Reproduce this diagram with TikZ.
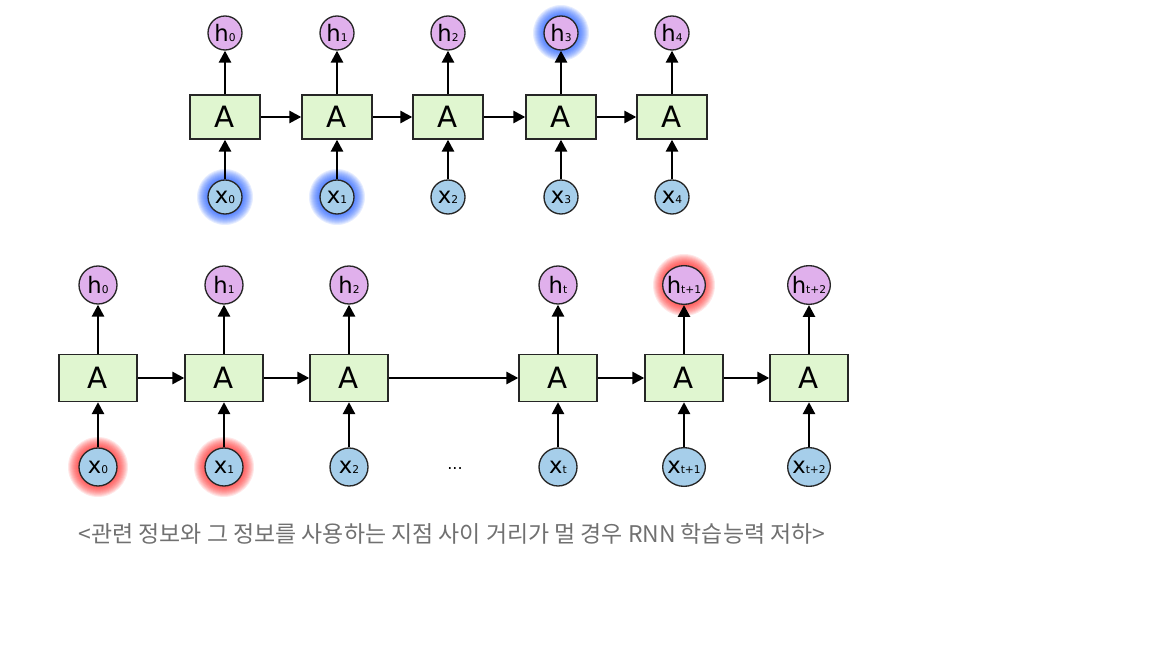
\documentclass[tikz,border=0pt]{standalone}
\usepackage{fontspec}
\setmainfont{DejaVu Sans}
\newfontfamily\krfont{Noto Sans CJK KR}
\usetikzlibrary{arrows.meta,shapes.geometric,backgrounds}

\definecolor{cellgreen}{RGB}{224,246,208}
\definecolor{hpurple}{RGB}{224,176,236}
\definecolor{xblue}{RGB}{166,206,234}
\definecolor{glowblue}{RGB}{30,90,255}
\definecolor{glowred}{RGB}{255,40,40}
\definecolor{capgray}{RGB}{112,112,112}

\newcommand{\sub}[1]{{\fontsize{8}{8}\selectfont #1}}
\newcommand{\lbl}[2]{\makebox[0pt]{#1\sub{#2}}}

\tikzset{every picture/.style={line width=0.75pt}}
\tikzset{
  cell/.style={draw=black!85, line width=1pt, fill=cellgreen, inner sep=0pt, font=\fontsize{22}{22}\selectfont},
  smallcell/.style={cell, minimum width=52.5pt, minimum height=33pt},
  bigcell/.style={cell, minimum width=58.5pt, minimum height=35.25pt},
  state/.style={ellipse, draw=black!85, line width=1pt, inner sep=0pt, font=\fontsize{17}{17}\selectfont},
  hstate/.style={state, fill=hpurple},
  xstate/.style={state, fill=xblue},
  small/.style={minimum width=25.5pt, minimum height=25.5pt},
  big/.style={minimum width=28.5pt, minimum height=28.5pt},
  wide/.style={minimum width=32pt, minimum height=29pt},
  link/.style={line width=2pt, -{Triangle[length=9pt,width=9pt]}},
  caption/.style={text=capgray, font=\krfont\fontsize{17.2}{17.2}\selectfont},
}
% soft halo behind a node
\newcommand{\halo}[3]{%
  \foreach \r in {0,1,...,11} \fill[#3, opacity=0.11] (#1) circle ({#2+\r});}

\begin{document}
\begin{tikzpicture}[x=0.75pt,y=0.75pt,yscale=-1,xscale=1]
  \useasboundingbox (0,0) rectangle (1152,648);

  % top chain
  \foreach \i/\xx in {0/225,1/337,2/448,3/561,4/672} {
    \node[smallcell] (ta\i) at (\xx,117) {A};
    \node[hstate,small] (th\i) at (\xx,33) {\lbl{h}{\i}};
    \node[xstate,small] (tx\i) at (\xx,197) {\lbl{x}{\i}};
    \draw[link] (tx\i) -- (ta\i);
    \draw[link] (ta\i) -- (th\i);
  }
  \foreach \i [remember=\i as \j (initially 0)] in {1,...,4}
    \draw[link] (ta\j) -- (ta\i);

  % bottom chain
  \foreach \i/\xx/\s/\sz in {0/98/0/big,1/224/1/big,2/349/2/big,3/558/t/big,4/684/t+1/wide,5/809/t+2/wide} {
    \node[bigcell] (ba\i) at (\xx,378) {A};
    \node[hstate,\sz] (bh\i) at (\xx,285) {\lbl{h}{\s}};
    \node[xstate,\sz] (bx\i) at (\xx,467) {\lbl{x}{\s}};
    \draw[link] (bx\i) -- (ba\i);
    \draw[link] (ba\i) -- (bh\i);
  }
  \foreach \i [remember=\i as \j (initially 0)] in {1,...,5}
    \draw[link] (ba\j) -- (ba\i);
  \node[font=\fontsize{12}{12}\selectfont] (dots) at (455,469) {...};

  % glows
  \begin{scope}[on background layer]
    \halo{tx0.center}{17}{glowblue}
    \halo{tx1.center}{17}{glowblue}
    \halo{th3.center}{17}{glowblue}
    \halo{bx0.center}{19}{glowred}
    \halo{bx1.center}{19}{glowred}
    \halo{bh4.center}{20}{glowred}
  \end{scope}

  % Text Node
  \node[caption] (note) at (452,534) {<관련 정보와 그 정보를 사용하는 지점 사이 거리가 멀 경우 RNN 학습능력 저하>};
\end{tikzpicture}
\end{document}
